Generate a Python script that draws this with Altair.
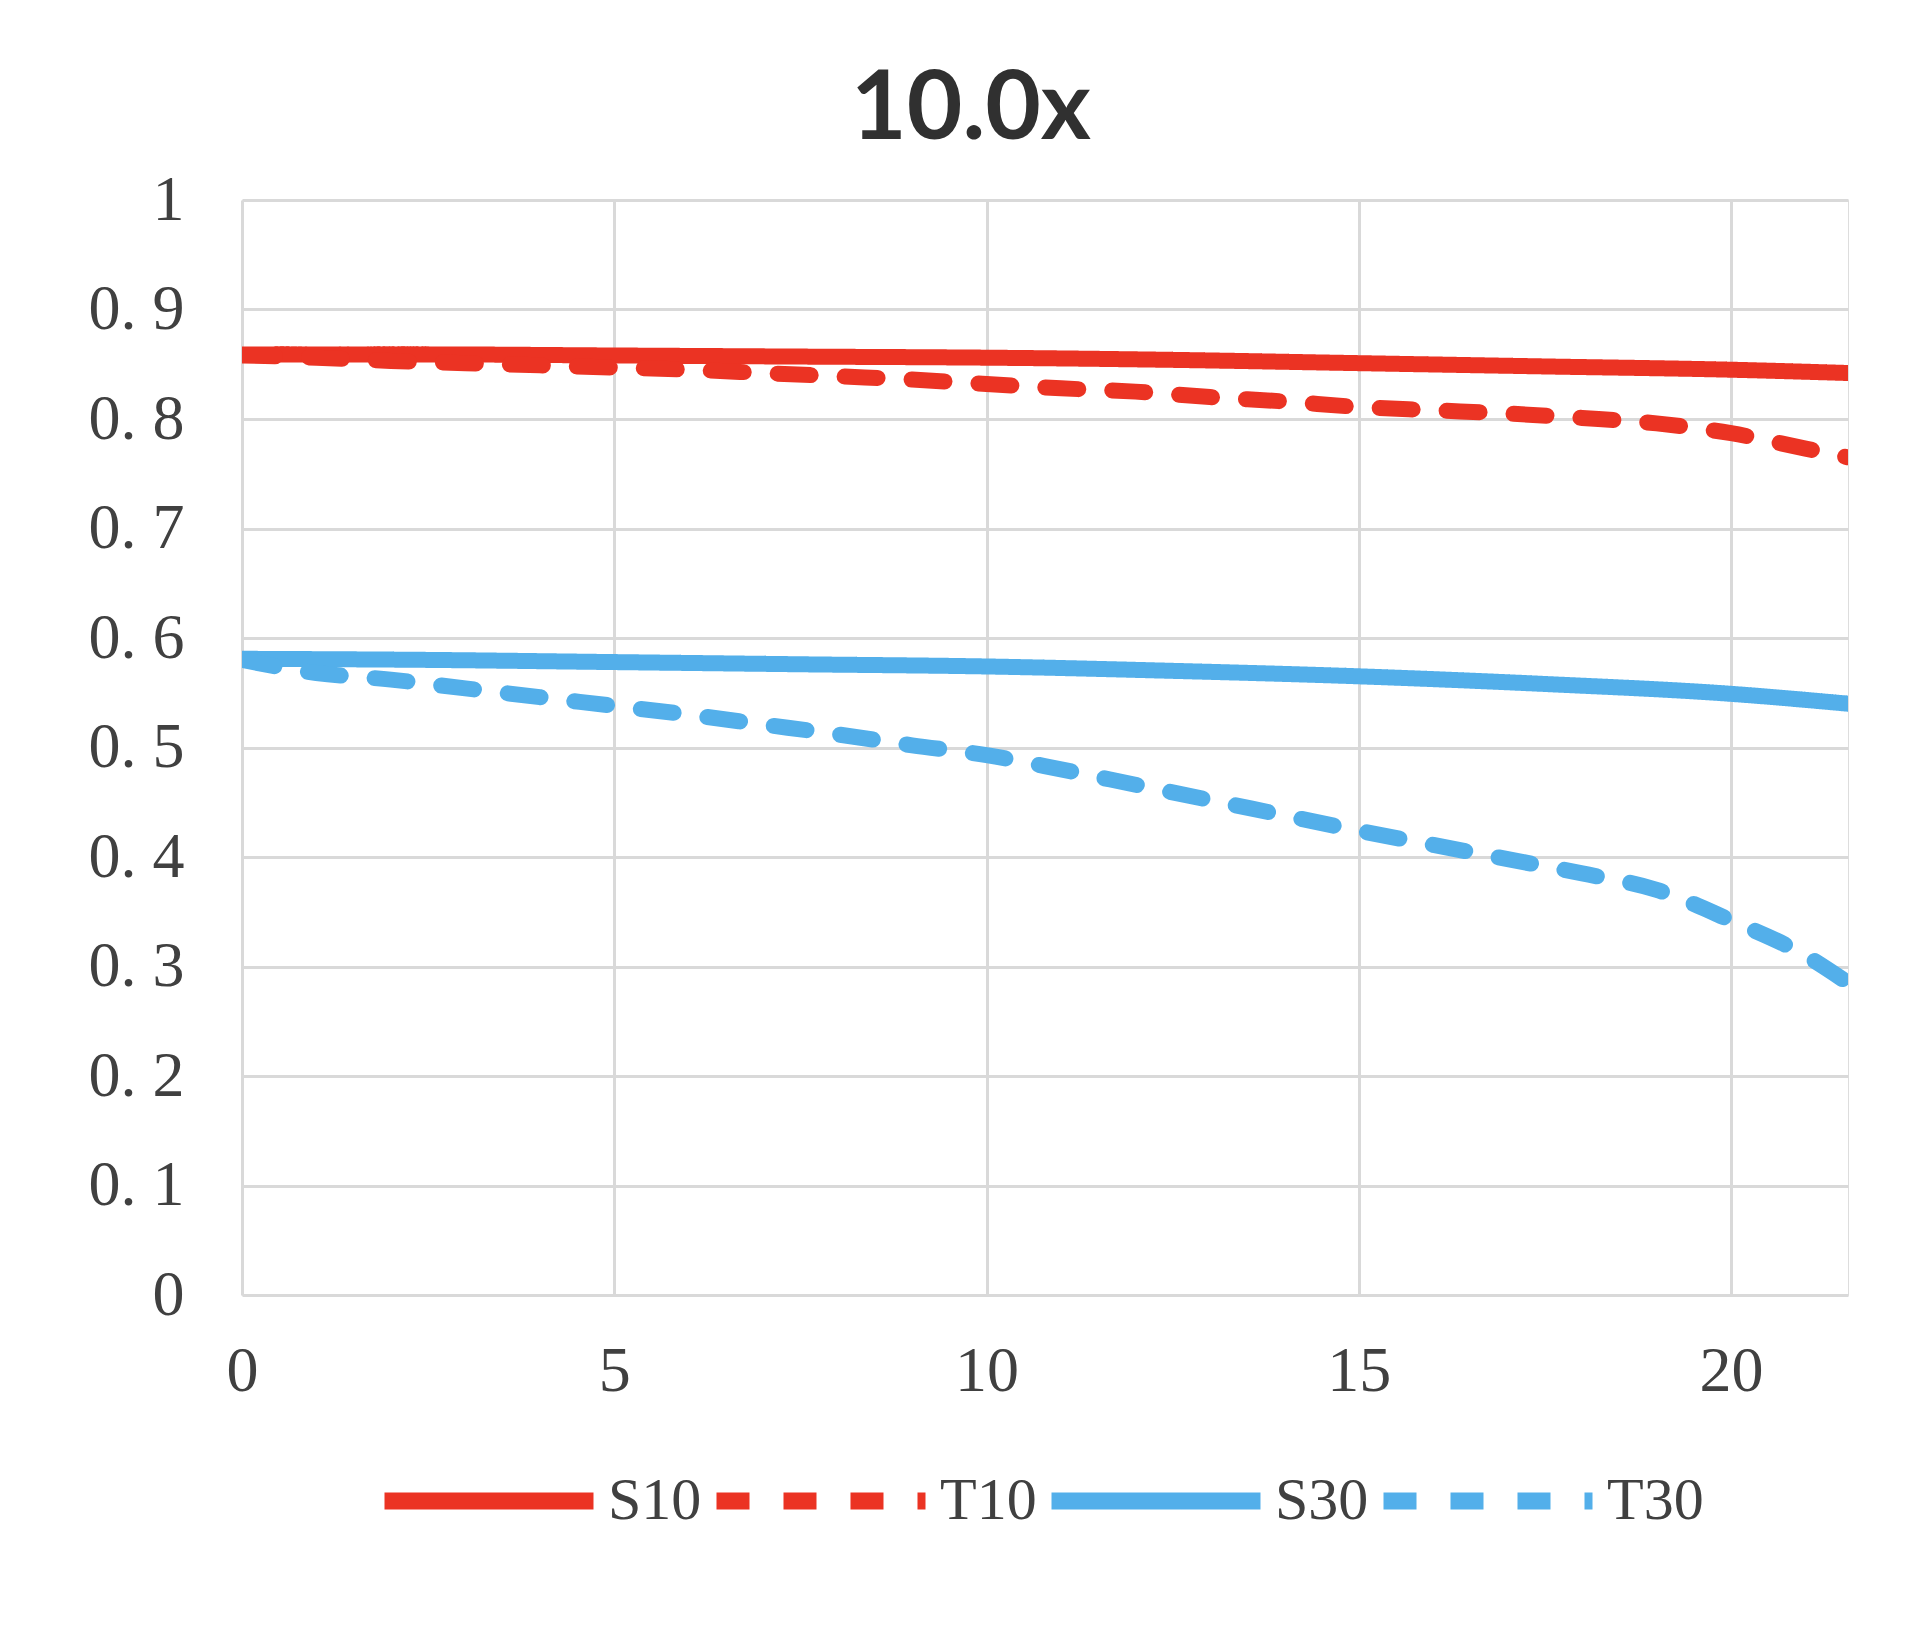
import altair as alt
import pandas as pd

# Series values
x_s = [0, 2.5, 5, 7.5, 10, 12.5, 15, 17.5, 20, 21.57]
s10 = [0.859, 0.859, 0.858, 0.857, 0.856, 0.854, 0.851, 0.848, 0.845, 0.842]
s30 = [0.581, 0.580, 0.578, 0.576, 0.574, 0.570, 0.565, 0.558, 0.549, 0.540]

x_t = [0, 1, 2, 3, 4, 5, 6, 7, 8, 9, 10, 11, 12, 13, 14, 15, 16, 17, 18, 19, 20, 21, 21.57]
t10 = [0.858, 0.856, 0.853, 0.851, 0.849, 0.847, 0.845, 0.842, 0.839, 0.836, 0.832,
       0.828, 0.825, 0.820, 0.816, 0.811, 0.808, 0.805, 0.801, 0.796, 0.787, 0.773, 0.765]
t30 = [0.580, 0.568, 0.562, 0.554, 0.546, 0.538, 0.530, 0.521, 0.512, 0.502, 0.493,
       0.480, 0.466, 0.452, 0.438, 0.424, 0.411, 0.398, 0.385, 0.370, 0.342, 0.310, 0.285]

series = ["S10", "T10", "S30", "T30"]
colors = ["#EB3323", "#EB3323", "#53AFEA", "#53AFEA"]
dashes = [[1, 0], [33, 34], [1, 0], [33, 34]]

x_ticks = [0, 5, 10, 15, 20]
y_ticks = [0, 0.1, 0.2, 0.3, 0.4, 0.5, 0.6, 0.7, 0.8, 0.9, 1]

rows = []
for name, xs, ys in [("S10", x_s, s10), ("T10", x_t, t10), ("S30", x_s, s30), ("T30", x_t, t30)]:
    for xv, yv in zip(xs, ys):
        rows.append({"x": xv, "y": yv, "series": name})
df = pd.DataFrame(rows)

legend = alt.Legend(
    title=None, orient="none", legendX=134, legendY=1188, direction="horizontal",
    columns=4, symbolType="stroke", symbolSize=43681, symbolStrokeWidth=17,
    labelFont="Liberation Serif", labelFontSize=60, labelColor="#404040",
    labelOffset=6, columnPadding=-20, padding=0,
)

chart = alt.Chart(df).mark_line(
    strokeWidth=16, strokeCap="round", strokeJoin="round", interpolate="monotone", clip=True
).encode(
    x=alt.X("x:Q", scale=alt.Scale(domain=[0, 21.57], nice=False, zero=False),
            axis=alt.Axis(values=x_ticks, title=None, ticks=False, tickSize=0, domain=False,
                          labelFont="Liberation Serif", labelFontSize=64, labelColor="#404040",
                          labelPadding=44, labelFlush=False, labelOverlap=False,
                          gridColor="#D9D9D9", gridWidth=3)),
    y=alt.Y("y:Q", scale=alt.Scale(domain=[0, 1], nice=False),
            axis=alt.Axis(values=y_ticks, format=".1f", title=None, ticks=False, tickSize=0, domain=False,
                          labelExpr="datum.value == 0 ? '0' : datum.value == 1 ? '1' : replace(datum.label, '.', '. ')",
                          labelFont="Liberation Serif", labelFontSize=64, labelColor="#404040",
                          labelPadding=58, labelOverlap=False,
                          gridColor="#D9D9D9", gridWidth=3)),
    color=alt.Color("series:N", scale=alt.Scale(domain=series, range=colors), sort=series, legend=legend),
    strokeDash=alt.StrokeDash("series:N", scale=alt.Scale(domain=series, range=dashes), sort=series, legend=legend),
    detail="series:N",
).properties(
    width=1606, height=1095,
    title=alt.TitleParams(text="10.0x", anchor="middle", dx=-74, offset=-67, baseline="alphabetic",
                          font="Lato", fontSize=96, fontWeight="bold", color="#303030"),
    autosize=alt.AutoSizeParams(type="none"),
    padding={"left": 234, "top": 192, "right": 64, "bottom": 348},
).configure_view(stroke="#D9D9D9", strokeWidth=3).configure(background="white")

chart.save("out.html", embed_options={"renderer": "svg", "actions": False})
